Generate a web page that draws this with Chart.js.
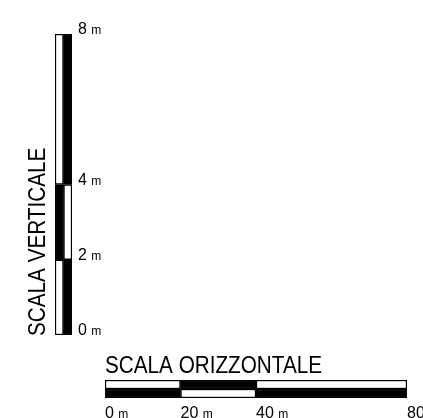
<!DOCTYPE html>
<html>
<head>
<meta charset="utf-8">
<script src="https://cdn.jsdelivr.net/npm/chart.js@4/dist/chart.umd.min.js"></script>
<style>
  html, body { margin: 0; padding: 0; background: #fff; }
  #wrap { position: relative; width: 423px; height: 418px; overflow: hidden; }
  canvas { position: absolute; left: 0; top: 0; }
</style>
</head>
<body>
<div id="wrap">
  <canvas id="vChart" width="423" height="418"></canvas>
  <canvas id="hChart" width="423" height="418"></canvas>
</div>
<script>
// ---- data ----
const V_TITLE = 'SCALA VERTICALE';
const H_TITLE = 'SCALA ORIZZONTALE';
const UNIT = 'm';

const V_COLUMNS = ['sinistra', 'destra'];
const V_SEGMENTS = [[0, 2], [2, 4], [4, 8]];
const V_LEFT_COLORS = ['#ffffff', '#000000', '#ffffff'];
const V_RIGHT_COLORS = ['#000000', '#ffffff', '#000000'];
const V_TICKS = [0, 2, 4, 8];

const H_ROWS = ['sopra', 'sotto'];
const H_SEGMENTS = [[0, 20], [20, 40], [40, 80]];
const H_TOP_COLORS = ['#ffffff', '#000000', '#ffffff'];
const H_BOTTOM_COLORS = ['#000000', '#ffffff', '#000000'];
const H_TICKS = [0, 20, 40, 80];

const W = 423, H = 418;
const TITLE_FONT = '23px "Liberation Sans", Arial, sans-serif';
const NUM_FONT = '16px "Liberation Sans", Arial, sans-serif';
const UNIT_FONT = '12px "Liberation Sans", Arial, sans-serif';
const TITLE_SX = 0.9;

function drawLabel(ctx, x, y, value) {
  ctx.save();
  ctx.fillStyle = '#000';
  ctx.textBaseline = 'alphabetic';
  ctx.textAlign = 'left';
  ctx.font = NUM_FONT;
  const num = String(value) + ' ';
  ctx.fillText(num, x, y);
  const w = ctx.measureText(num).width;
  ctx.font = UNIT_FONT;
  ctx.fillText(UNIT, x + w, y);
  ctx.restore();
}

function drawTitle(ctx, text, x, y, rotate) {
  ctx.save();
  ctx.translate(x, y);
  if (rotate) ctx.rotate(-Math.PI / 2);
  ctx.scale(TITLE_SX, 1);
  ctx.font = TITLE_FONT;
  ctx.fillStyle = '#000';
  ctx.textBaseline = 'alphabetic';
  ctx.textAlign = 'left';
  ctx.fillText(text, 0, 0);
  ctx.restore();
}

const vLabels = {
  id: 'vLabels',
  afterDatasetsDraw(chart) {
    const { ctx, chartArea, scales } = chart;
    V_TICKS.forEach(v => drawLabel(ctx, chartArea.right + 6, scales.y.getPixelForValue(v), v));
    drawTitle(ctx, V_TITLE, chartArea.left - 10, chartArea.bottom + 1, true);
  }
};

const hLabels = {
  id: 'hLabels',
  afterDatasetsDraw(chart) {
    const { ctx, chartArea, scales } = chart;
    H_TICKS.forEach(v => drawLabel(ctx, scales.x.getPixelForValue(v), chartArea.bottom + 20, v));
    drawTitle(ctx, H_TITLE, chartArea.left, chartArea.top - 7, false);
  }
};

const barCommon = {
  barPercentage: 1,
  categoryPercentage: 1,
  grouped: false,
  borderColor: '#000',
  borderWidth: 1.5,
  borderSkipped: false
};

new Chart(document.getElementById('vChart'), {
  type: 'bar',
  data: {
    labels: V_COLUMNS,
    datasets: V_SEGMENTS.map((seg, i) => Object.assign({
      label: seg.join('-'),
      data: [seg, seg],
      backgroundColor: [V_LEFT_COLORS[i], V_RIGHT_COLORS[i]]
    }, barCommon))
  },
  options: {
    responsive: false,
    animation: false,
    layout: { padding: { left: 55, right: W - 72, top: 34, bottom: H - 335 } },
    plugins: { legend: { display: false }, tooltip: { enabled: false }, title: { display: false } },
    scales: {
      x: { display: false },
      y: { display: false, min: 0, max: 8 }
    }
  },
  plugins: [vLabels]
});

new Chart(document.getElementById('hChart'), {
  type: 'bar',
  data: {
    labels: H_ROWS,
    datasets: H_SEGMENTS.map((seg, i) => Object.assign({
      label: seg.join('-'),
      data: [seg, seg],
      backgroundColor: [H_TOP_COLORS[i], H_BOTTOM_COLORS[i]]
    }, barCommon))
  },
  options: {
    indexAxis: 'y',
    responsive: false,
    animation: false,
    layout: { padding: { left: 105, right: W - 407, top: 380, bottom: H - 398 } },
    plugins: { legend: { display: false }, tooltip: { enabled: false }, title: { display: false } },
    scales: {
      x: { display: false, min: 0, max: 80 },
      y: { display: false }
    }
  },
  plugins: [hLabels]
});
</script>
</body>
</html>
